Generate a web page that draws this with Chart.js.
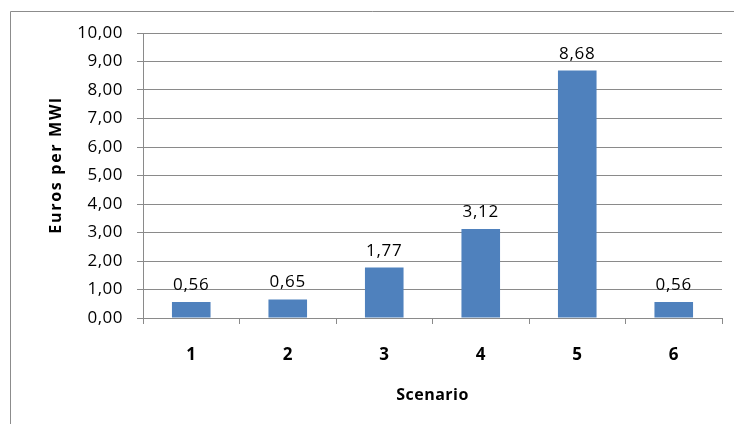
<!DOCTYPE html>
<html>
<head>
<meta charset="utf-8">
<script src="https://cdn.jsdelivr.net/npm/chart.js@4/dist/chart.umd.min.js"></script>
<style>
  html, body { margin: 0; padding: 0; background: #ffffff; }
  #wrap { width: 734px; height: 424px; position: relative; }
</style>
</head>
<body>
<div id="wrap"><canvas id="chart" width="734" height="424"></canvas></div>
<script>
// Cost per scenario
const scenarios = ['1', '2', '3', '4', '5', '6'];
const eurosPerMWh = [0.56, 0.65, 1.77, 3.12, 8.68, 0.56];
const yMin = 0;
const yMax = 10;
const yStep = 1;

const yAxisTitle = 'Euros per MWl';
const xAxisTitle = 'Scenario';

const FONT = '"Open Sans", "Liberation Sans", sans-serif';
const GRID = '#8a8a8a';
const BAR = '#4f81bd';

const fmt = v => Number(v).toFixed(2).replace('.', ',');

// Outer frame, axis titles and value labels
const decorations = {
  id: 'decorations',
  beforeDraw(chart) {
    const ctx = chart.ctx;
    ctx.save();
    ctx.strokeStyle = '#8c8c8c';
    ctx.lineWidth = 1;
    ctx.beginPath();
    ctx.moveTo(10.5, chart.height);
    ctx.lineTo(10.5, 11.5);
    ctx.lineTo(chart.width, 11.5);
    ctx.stroke();
    ctx.restore();
    ctx.letterSpacing = '0.5px';
  },
  afterDatasetsDraw(chart) {
    const ctx = chart.ctx;
    const meta = chart.getDatasetMeta(0);
    ctx.save();
    ctx.letterSpacing = '0.7px';
    ctx.font = '17px ' + FONT;
    ctx.fillStyle = '#000000';
    ctx.textAlign = 'center';
    ctx.textBaseline = 'alphabetic';
    meta.data.forEach((bar, i) => {
      ctx.fillText(fmt(chart.data.datasets[0].data[i]), bar.x, bar.y - 12);
    });
    ctx.restore();
  },
  afterDraw(chart) {
    const ctx = chart.ctx;
    const area = chart.chartArea;
    ctx.save();
    ctx.fillStyle = '#000000';
    ctx.textAlign = 'center';
    ctx.textBaseline = 'middle';
    ctx.font = 'bold 16px ' + FONT;
    ctx.letterSpacing = '0.5px';
    ctx.fillText(xAxisTitle, (area.left + area.right) / 2, 395);
    ctx.translate(56, 165);
    ctx.rotate(-Math.PI / 2);
    ctx.letterSpacing = '1.7px';
    ctx.fillText(yAxisTitle, 0, 0);
    ctx.restore();
  }
};

new Chart(document.getElementById('chart'), {
  type: 'bar',
  data: {
    labels: scenarios,
    datasets: [{
      data: eurosPerMWh,
      backgroundColor: BAR,
      borderWidth: 0,
      categoryPercentage: 0.8,
      barPercentage: 0.5
    }]
  },
  options: {
    responsive: false,
    animation: false,
    layout: { padding: { top: 33, right: 12, left: 0, bottom: 0 } },
    plugins: {
      legend: { display: false },
      tooltip: { enabled: false }
    },
    scales: {
      x: {
        grid: {
          display: true,
          drawOnChartArea: false,
          drawTicks: true,
          tickLength: 6,
          color: GRID,
          offset: true
        },
        border: { display: true, color: GRID, width: 1 },
        ticks: {
          color: '#000000',
          font: { family: FONT, size: 17, weight: 'bold' },
          padding: 21
        },
        afterFit(scale) { scale.height = 106; }
      },
      y: {
        min: yMin,
        max: yMax,
        grid: {
          color: GRID,
          lineWidth: 1,
          drawTicks: true,
          tickLength: 6
        },
        border: { display: true, color: GRID, width: 1 },
        ticks: {
          stepSize: yStep,
          color: '#000000',
          font: { family: FONT, size: 17 },
          padding: 14,
          callback: v => fmt(v)
        },
        afterFit(scale) { scale.width = 143; }
      }
    }
  },
  plugins: [decorations]
});
</script>
</body>
</html>
